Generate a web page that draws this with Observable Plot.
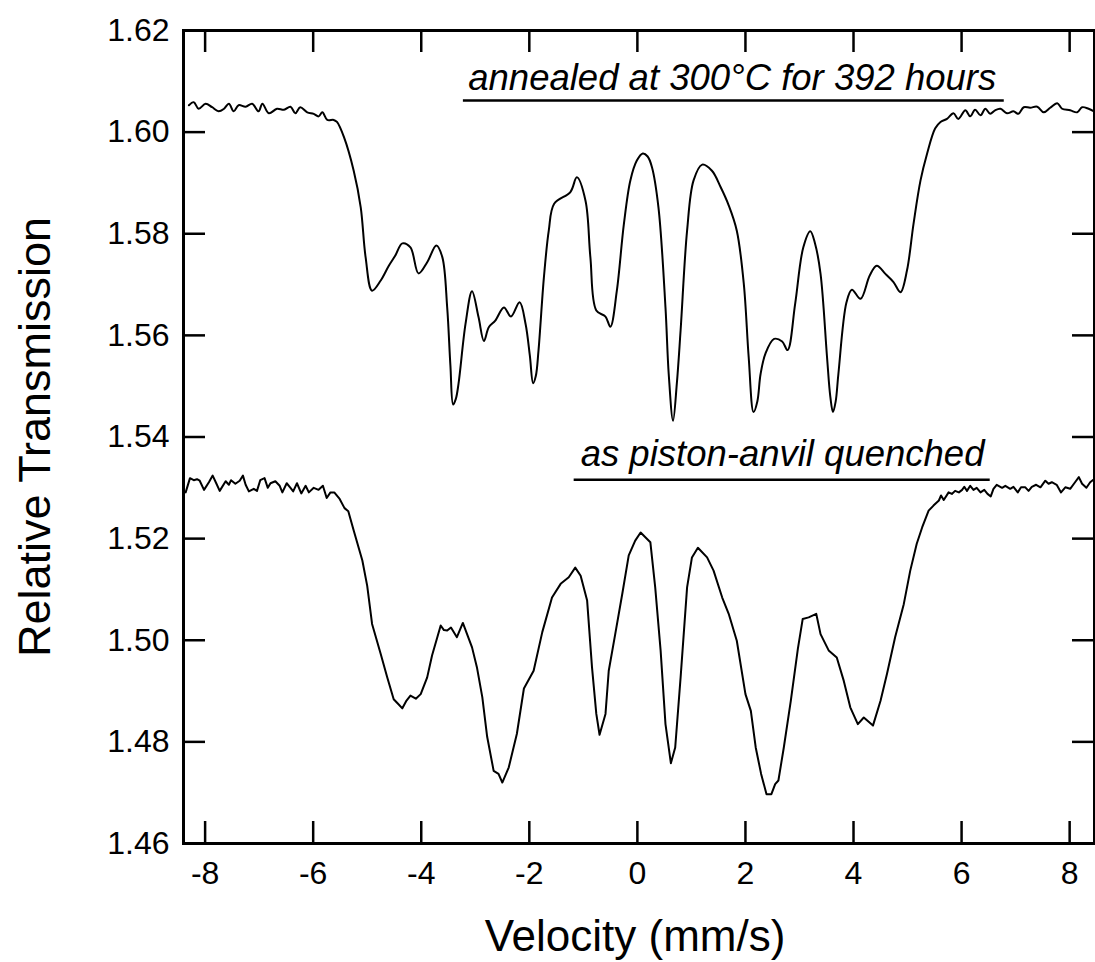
<!DOCTYPE html>
<html><head><meta charset="utf-8">
<script src="https://cdn.jsdelivr.net/npm/d3@7"></script>
<script src="https://cdn.jsdelivr.net/npm/@observablehq/plot@0.6"></script>
<style>body{margin:0;background:#fff}</style>
</head><body><div id="chart"></div>
<script>
// ---- data ----
const xTicks = [-8, -6, -4, -2, 0, 2, 4, 6, 8];
const yTicks = [1.46, 1.48, 1.50, 1.52, 1.54, 1.56, 1.58, 1.60, 1.62];

const annealedV = [-8.30,-8.21,-8.12,-7.99,-7.87,-7.75,-7.65,-7.56,-7.47,-7.38,-7.25,-7.13,-7.01,-6.94,-6.82,-6.67,-6.54,-6.42,-6.33,-6.24,-6.11,-5.99,-5.90,-5.83,-5.74,-5.62,-5.56,-5.43,-5.25,-5.12,-5.03,-4.91,-4.75,-4.60,-4.48,-4.35,-4.20,-4.05,-3.89,-3.72,-3.61,-3.52,-3.46,-3.41,-3.36,-3.31,-3.18,-3.06,-2.94,-2.84,-2.75,-2.63,-2.47,-2.34,-2.18,-2.07,-1.99,-1.93,-1.88,-1.83,-1.73,-1.64,-1.54,-1.24,-1.12,-0.96,-0.87,-0.76,-0.59,-0.50,-0.38,-0.25,-0.13,-0.01,0.10,0.19,0.27,0.39,0.52,0.58,0.66,0.73,0.80,0.92,1.04,1.20,1.38,1.54,1.69,1.84,1.97,2.06,2.15,2.22,2.28,2.37,2.53,2.68,2.78,2.92,3.07,3.20,3.29,3.39,3.51,3.57,3.62,3.67,3.72,3.87,3.97,4.13,4.30,4.43,4.59,4.74,4.87,4.99,5.11,5.24,5.36,5.51,5.61,5.73,5.85,5.94,6.07,6.16,6.25,6.35,6.44,6.53,6.62,6.72,6.84,6.96,7.05,7.15,7.27,7.40,7.52,7.64,7.77,7.86,8.01,8.14,8.23,8.35,8.45];
const annealedT = [1.6053,1.6059,1.6046,1.6056,1.6049,1.6041,1.6046,1.6056,1.6041,1.6053,1.6050,1.6056,1.6041,1.6056,1.6037,1.6046,1.6044,1.6050,1.6037,1.6049,1.6039,1.6036,1.6031,1.6039,1.6024,1.6024,1.6020,1.5990,1.5924,1.5852,1.5754,1.5688,1.5708,1.5737,1.5757,1.5781,1.5773,1.5722,1.5744,1.5777,1.5754,1.5655,1.5540,1.5464,1.5475,1.5505,1.5623,1.5687,1.5636,1.5589,1.5616,1.5629,1.5655,1.5637,1.5665,1.5623,1.5560,1.5506,1.5520,1.5570,1.5714,1.5806,1.5859,1.5882,1.5911,1.5865,1.5754,1.5649,1.5637,1.5617,1.5688,1.5819,1.5905,1.5944,1.5958,1.5952,1.5931,1.5852,1.5655,1.5524,1.5432,1.5505,1.5610,1.5806,1.5905,1.5936,1.5924,1.5892,1.5856,1.5806,1.5701,1.5557,1.5449,1.5470,1.5524,1.5564,1.5593,1.5588,1.5571,1.5662,1.5773,1.5805,1.5780,1.5721,1.5557,1.5480,1.5449,1.5470,1.5524,1.5665,1.5690,1.5672,1.5718,1.5737,1.5721,1.5705,1.5685,1.5728,1.5819,1.5905,1.5957,1.6007,1.6020,1.6026,1.6037,1.6026,1.6043,1.6031,1.6044,1.6033,1.6046,1.6036,1.6043,1.6046,1.6037,1.6041,1.6036,1.6049,1.6048,1.6050,1.6039,1.6048,1.6057,1.6046,1.6043,1.6039,1.6049,1.6046,1.6041];

const quenchedV = [-8.36,-8.28,-8.21,-8.15,-8.10,-8.02,-7.93,-7.86,-7.79,-7.73,-7.62,-7.56,-7.52,-7.44,-7.36,-7.30,-7.25,-7.19,-7.10,-7.04,-6.98,-6.90,-6.84,-6.79,-6.70,-6.62,-6.57,-6.49,-6.42,-6.37,-6.30,-6.22,-6.14,-6.08,-5.99,-5.90,-5.82,-5.75,-5.68,-5.61,-5.51,-5.42,-5.35,-5.25,-5.09,-5.00,-4.91,-4.75,-4.63,-4.51,-4.43,-4.35,-4.28,-4.20,-4.10,-4.01,-3.89,-3.80,-3.64,-3.58,-3.52,-3.45,-3.34,-3.23,-3.06,-2.97,-2.87,-2.78,-2.66,-2.57,-2.50,-2.38,-2.23,-2.10,-1.92,-1.76,-1.58,-1.42,-1.27,-1.15,-1.05,-0.93,-0.84,-0.76,-0.70,-0.59,-0.53,-0.41,-0.28,-0.16,-0.04,0.06,0.24,0.33,0.43,0.52,0.62,0.70,0.80,0.92,1.01,1.12,1.29,1.41,1.57,1.69,1.84,2.00,2.10,2.19,2.29,2.39,2.48,2.55,2.61,2.71,2.84,2.97,3.06,3.17,3.31,3.39,3.54,3.69,3.82,3.94,4.08,4.19,4.36,4.50,4.62,4.77,4.93,5.05,5.17,5.27,5.39,5.48,5.58,5.62,5.67,5.76,5.82,5.88,5.95,6.01,6.05,6.10,6.16,6.22,6.28,6.35,6.42,6.48,6.54,6.59,6.65,6.75,6.81,6.90,6.96,7.04,7.10,7.18,7.24,7.30,7.38,7.46,7.55,7.61,7.67,7.76,7.84,7.92,8.01,8.10,8.17,8.23,8.31,8.38,8.45];
const quenchedT = [1.5291,1.5319,1.5315,1.5317,1.5314,1.5296,1.5311,1.5324,1.5308,1.5294,1.5313,1.5306,1.5315,1.5308,1.5314,1.5324,1.5306,1.5293,1.5298,1.5294,1.5315,1.5319,1.5300,1.5309,1.5313,1.5304,1.5291,1.5309,1.5300,1.5293,1.5309,1.5289,1.5304,1.5291,1.5300,1.5296,1.5304,1.5280,1.5291,1.5291,1.5278,1.5260,1.5254,1.5216,1.5157,1.5107,1.5032,1.4973,1.4927,1.4884,1.4875,1.4866,1.4880,1.4891,1.4885,1.4894,1.4927,1.4970,1.5029,1.5020,1.5019,1.5025,1.5006,1.5034,1.4986,1.4947,1.4888,1.4810,1.4743,1.4737,1.4720,1.4750,1.4816,1.4905,1.4940,1.5016,1.5084,1.5111,1.5124,1.5143,1.5127,1.5078,1.4947,1.4855,1.4814,1.4855,1.4940,1.5012,1.5091,1.5167,1.5196,1.5212,1.5193,1.5104,1.4980,1.4835,1.4758,1.4789,1.4927,1.5104,1.5163,1.5182,1.5163,1.5137,1.5084,1.5052,1.4999,1.4894,1.4861,1.4789,1.4737,1.4697,1.4697,1.4717,1.4724,1.4789,1.4881,1.4983,1.5042,1.5045,1.5052,1.5012,1.4980,1.4966,1.4920,1.4868,1.4835,1.4848,1.4832,1.4881,1.4934,1.5006,1.5071,1.5137,1.5190,1.5222,1.5255,1.5265,1.5275,1.5285,1.5276,1.5291,1.5288,1.5294,1.5291,1.5296,1.5302,1.5294,1.5304,1.5296,1.5300,1.5291,1.5296,1.5288,1.5283,1.5298,1.5306,1.5300,1.5304,1.5298,1.5302,1.5291,1.5301,1.5301,1.5294,1.5302,1.5306,1.5301,1.5314,1.5308,1.5311,1.5306,1.5291,1.5301,1.5298,1.5311,1.5321,1.5308,1.5300,1.5311,1.5317];

const labelText = ["annealed at 300°C for 392 hours", "as piston-anvil quenched"];
const labelV = [-3.13, -1.05];
const labelT = [1.6082, 1.5342];
const underlineV1 = [-3.22, -1.17];
const underlineV2 = [6.79, 6.53];
const underlineT = [1.6062, 1.5316];

// ---- tables ----
const annealed = annealedV.map((v, i) => ({v, t: annealedT[i]}));
const quenched = quenchedV.map((v, i) => ({v, t: quenchedT[i]}));
const labels = labelText.map((s, i) => ({s, v: labelV[i], t: labelT[i]}));
const underlines = underlineT.map((t, i) => ({t, v1: underlineV1[i], v2: underlineV2[i]}));

const W = 1095, H = 962, mL = 183, mR = 1, mT = 30, mB = 119;
const plotH = H - mT - mB, plotW = W - mL - mR, tick = 22;
const font = "'Liberation Sans', Arial, Helvetica, sans-serif";

const chart = Plot.plot({
  width: W, height: H,
  marginLeft: mL, marginRight: mR, marginTop: mT, marginBottom: mB,
  style: {fontFamily: font, fontSize: "32px", color: "black", background: "white"},
  x: {domain: [-8.4, 8.46]},
  y: {domain: [1.46, 1.62]},
  marks: [
    Plot.tickX(xTicks, {x: d => d, insetTop: plotH - tick, stroke: "black", strokeWidth: 2.5}),
    Plot.tickX(xTicks, {x: d => d, insetBottom: plotH - tick, stroke: "black", strokeWidth: 2.5}),
    Plot.tickY(yTicks, {y: d => d, insetRight: plotW - tick, stroke: "black", strokeWidth: 2.5}),
    Plot.tickY(yTicks, {y: d => d, insetLeft: plotW - tick, stroke: "black", strokeWidth: 2.5}),
    Plot.axisX({anchor: "bottom", ticks: xTicks, tickSize: 0, tickPadding: 18, tickFormat: d => `${d}`, label: null, fontSize: 32}),
    Plot.axisY({anchor: "left", ticks: yTicks, tickSize: 0, tickPadding: 14, tickFormat: d => d.toFixed(2), label: null, fontSize: 32}),
    Plot.frame({stroke: "black", strokeWidth: 3}),
    Plot.line(annealed, {x: "v", y: "t", stroke: "black", strokeWidth: 2, curve: "catmull-rom"}),
    Plot.line(quenched, {x: "v", y: "t", stroke: "black", strokeWidth: 2, curve: "linear"}),
    Plot.ruleY(underlines, {y: "t", x1: "v1", x2: "v2", stroke: "black", strokeWidth: 2.5}),
    Plot.text(labels, {x: "v", y: "t", text: "s", textAnchor: "start", lineAnchor: "bottom", fontStyle: "italic", fontSize: 36.5, fill: "black"}),
    Plot.text(["Velocity (mm/s)"], {frameAnchor: "bottom", textAnchor: "middle", lineAnchor: "bottom", dy: 107, dx: -4, fontSize: 44, fill: "black"}),
    Plot.text(["Relative Transmission"], {frameAnchor: "left", textAnchor: "middle", lineAnchor: "middle", rotate: -90, dx: -148, fontSize: 45, fill: "black"})
  ]
});
document.getElementById("chart").appendChild(chart);
</script>
</body></html>
